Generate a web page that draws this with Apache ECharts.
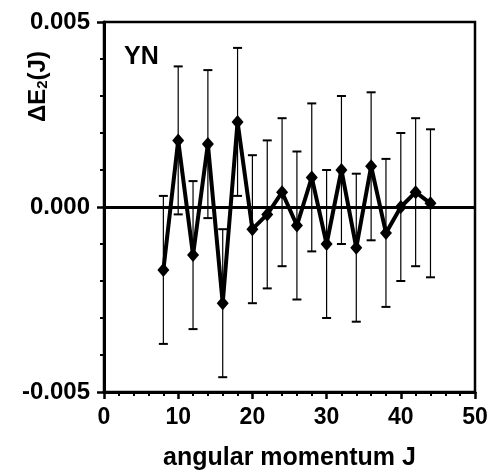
<!DOCTYPE html>
<html>
<head>
<meta charset="utf-8">
<script src="https://cdn.jsdelivr.net/npm/echarts@6/dist/echarts.min.js"></script>
<style>
html,body{margin:0;padding:0;background:#fff;}
#c{width:491px;height:476px;}
</style>
</head>
<body>
<div id="c"></div>
<script>
var J = [8,10,12,14,16,18,20,22,24,26,28,30,32,34,36,38,40,42,44];
var dE2 = [-0.0017,0.0018,-0.0013,0.0017,-0.0026,0.0023,-0.0006,-0.0002,0.0004,-0.0005,0.0008,-0.0010,0.0010,-0.0011,0.0011,-0.0007,0.0000,0.0004,0.0001];
var errBar = [0.0020,0.0020,0.0020,0.0020,0.0020,0.0020,0.0020,0.0020,0.0020,0.0020,0.0020,0.0020,0.0020,0.0020,0.0020,0.0020,0.0020,0.0020,0.0020];
var yTicks = [-0.005, 0.000, 0.005];

var lineData = J.map(function(j,i){return [j, dE2[i]];});
var errData = J.map(function(j,i){return [j, dE2[i]-errBar[i], dE2[i]+errBar[i]];});

var FONT = '"Liberation Sans", Arial, sans-serif';
var chart = echarts.init(document.getElementById('c'));
chart.setOption({
  animation: false,
  backgroundColor: '#fff',
  grid: {left: 104, right: 16, top: 22, bottom: 80, show: true, borderColor: '#000', borderWidth: 2.5, backgroundColor: 'transparent'},
  xAxis: {
    type: 'value', min: 0, max: 50, interval: 10,
    name: 'angular momentum J', nameLocation: 'middle', nameGap: 54,
    nameTextStyle: {fontFamily: FONT, fontSize: 25, fontWeight: 'bold', color: '#000'},
    axisLine: {show: true, onZero: false, lineStyle: {color: '#000', width: 3}},
    axisTick: {show: true, inside: false, length: 7, lineStyle: {color: '#000', width: 2.5}},
    minorTick: {show: true, splitNumber: 5, length: 4, lineStyle: {color: '#000', width: 2}},
    axisLabel: {fontFamily: FONT, fontSize: 23, fontWeight: 'bold', color: '#000', margin: 14},
    splitLine: {show: false}
  },
  yAxis: {
    type: 'value', min: yTicks[0], max: yTicks[2], interval: 0.005,
    axisLine: {show: true, onZero: false, lineStyle: {color: '#000', width: 3}},
    axisTick: {show: true, inside: false, length: 7, lineStyle: {color: '#000', width: 2.5}},
    minorTick: {show: true, splitNumber: 5, length: 4, lineStyle: {color: '#000', width: 2}},
    axisLabel: {fontFamily: FONT, fontSize: 24, fontWeight: 'bold', color: '#000', margin: 14,
      formatter: function(v){ return v.toFixed(3); }},
    splitLine: {show: false}
  },
  graphic: [
    {type: 'text', left: 124, top: 45, style: {text: 'YN', font: 'bold 25px ' + FONT, fill: '#000'}},
    {type: 'text', x: 22, y: 122, rotation: Math.PI/2,
      style: {
        text: '{a|ΔE}{s|2}{a|(J)}',
        fill: '#000',
        rich: {
          a: {font: 'bold 24px ' + FONT, fill: '#000', verticalAlign: 'bottom', lineHeight: 28},
          s: {font: 'bold 15px ' + FONT, fill: '#000', verticalAlign: 'bottom', lineHeight: 20}
        }
      }}
  ],
  series: [
    {
      type: 'custom',
      data: errData,
      z: 2,
      renderItem: function(params, api){
        var x = api.value(0);
        var lo = api.coord([x, api.value(1)]);
        var hi = api.coord([x, api.value(2)]);
        var hw = 4.5;
        var st = {stroke: '#000', lineWidth: 1.2};
        return {type: 'group', children: [
          {type: 'line', shape: {x1: lo[0], y1: lo[1], x2: hi[0], y2: hi[1]}, style: st},
          {type: 'line', shape: {x1: lo[0]-hw, y1: lo[1], x2: lo[0]+hw, y2: lo[1]}, style: {stroke:'#000', lineWidth: 2}},
          {type: 'line', shape: {x1: hi[0]-hw, y1: hi[1], x2: hi[0]+hw, y2: hi[1]}, style: {stroke:'#000', lineWidth: 2}}
        ]};
      }
    },
    {
      type: 'line',
      data: lineData,
      z: 3,
      symbol: 'diamond', symbolSize: [12, 14],
      itemStyle: {color: '#000'},
      lineStyle: {color: '#000', width: 4},
      markLine: {
        silent: true, symbol: 'none', label: {show: false},
        lineStyle: {color: '#000', width: 3, type: 'solid'},
        data: [{yAxis: 0}]
      }
    }
  ]
});
</script>
</body>
</html>
